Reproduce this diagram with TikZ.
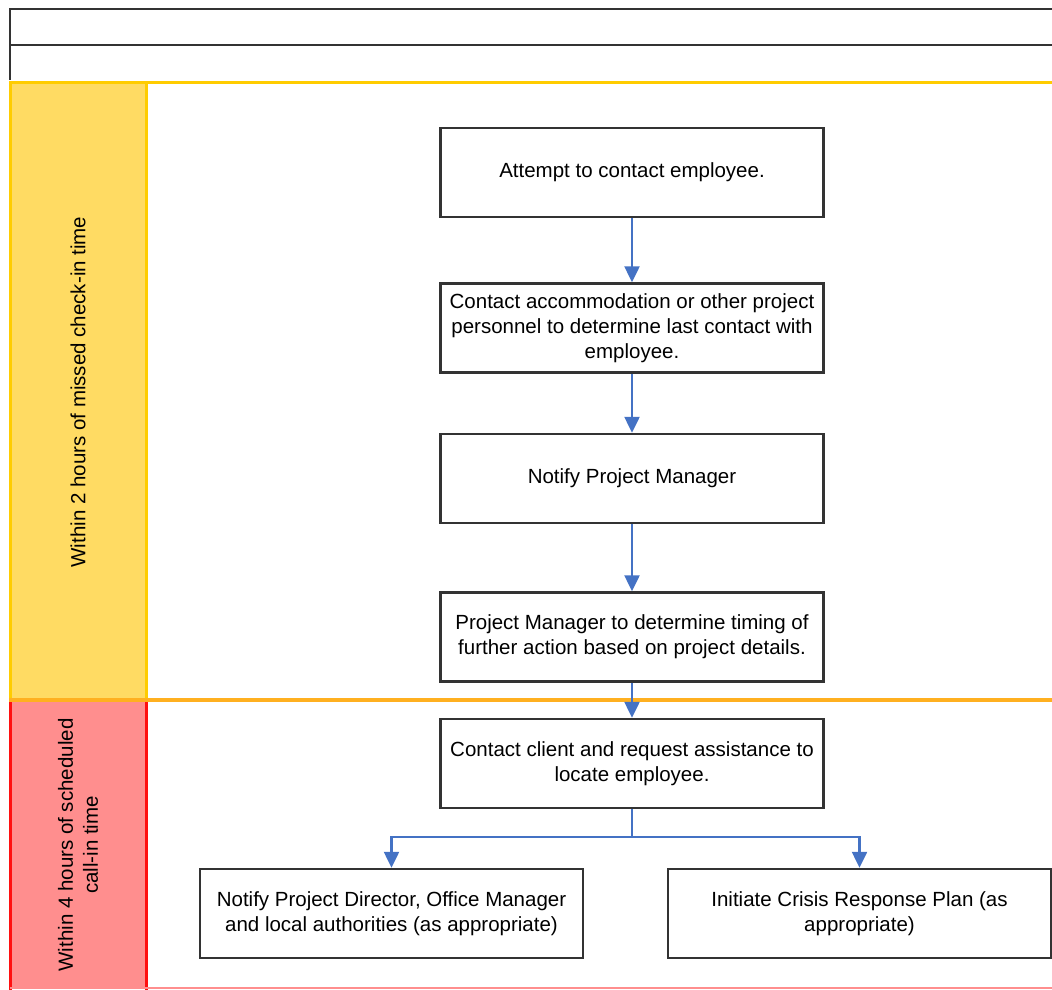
\documentclass[tikz,border=0pt]{standalone}
\usepackage{fontspec}
\setmainfont{Liberation Sans}
\usetikzlibrary{positioning,arrows.meta}
\definecolor{boxgray}{HTML}{333333}
\definecolor{flowblue}{HTML}{4472C4}
\definecolor{lanegold}{HTML}{FFDB63}
\definecolor{goldline}{HTML}{FFCC00}
\definecolor{laneorange}{HTML}{FFB020}
\definecolor{lanered}{HTML}{FF8E8E}
\definecolor{redline}{HTML}{FF1010}
\begin{document}
\begin{tikzpicture}[x=1pt,y=-1pt,font=\fontsize{20.5}{25}\selectfont,
stepbox/.style={draw=boxgray,line width=2.5pt,minimum width=383pt,minimum height=89pt,
 align=center,inner sep=0pt,fill=white},
flow/.style={draw=flowblue,line width=2.5pt,-{Triangle[width=15pt,length=16pt]},flowblue}]
 \useasboundingbox (0,0) rectangle (1052,990);
 % header rows
 \draw[boxgray,line width=2.5pt] (10,80) -- (10,9) -- (1053,9);
 \draw[boxgray,line width=2.5pt] (10,45) -- (1053,45);
 % lanes
 \fill[lanegold] (10,82) rectangle (146,700);
 \fill[lanered] (10,700) rectangle (146,988);
 \draw[goldline,line width=3pt] (1053,82) -- (10,82) -- (10,700);
 \draw[goldline,line width=3pt] (146,82) -- (146,700);
 \draw[redline,line width=3pt] (10,700) -- (10,990);
 \draw[redline,line width=3pt] (146,700) -- (146,990);
 \draw[lanered,line width=1.5pt] (10,988) -- (1053,988);
 \draw[laneorange,line width=3.5pt] (9,700) -- (1053,700);
 \node[rotate=90] (lane1) at (78,392) {Within 2 hours of missed check-in time};
 \node[rotate=90,align=center] (lane2) at (78,845) {Within 4 hours of scheduled\\call-in time};
 % steps
 \node[stepbox] (attempt) at (632,172.5) {Attempt to contact employee.};
 \node[stepbox,below=64pt of attempt] (accom) {Contact accommodation or other project\\personnel to determine last contact with\\employee.};
 \node[stepbox,below=59pt of accom] (notify) {Notify Project Manager};
 \node[stepbox,below=67pt of notify] (timing) {Project Manager to determine timing of\\further action based on project details.};
 \node[stepbox,below=35pt of timing] (client) {Contact client and request assistance to\\locate employee.};
 \node[stepbox] (director) at (391.5,913.5) {Notify Project Director, Office Manager\\and local authorities (as appropriate)};
 \node[stepbox] (crisis) at (859.5,913.5) {Initiate Crisis Response Plan (as\\appropriate)};
 \coordinate (split) at (client.south |- 0,837);
 \foreach \A/\B in {attempt/accom,accom/notify,notify/timing,timing/client}
 {\draw[flow] (\A) -- (\B);}
 \draw[flow] (client.south) -- (split) -| (director.north);
 \draw[flow] (split) -| (crisis.north);
\end{tikzpicture}
\end{document}
